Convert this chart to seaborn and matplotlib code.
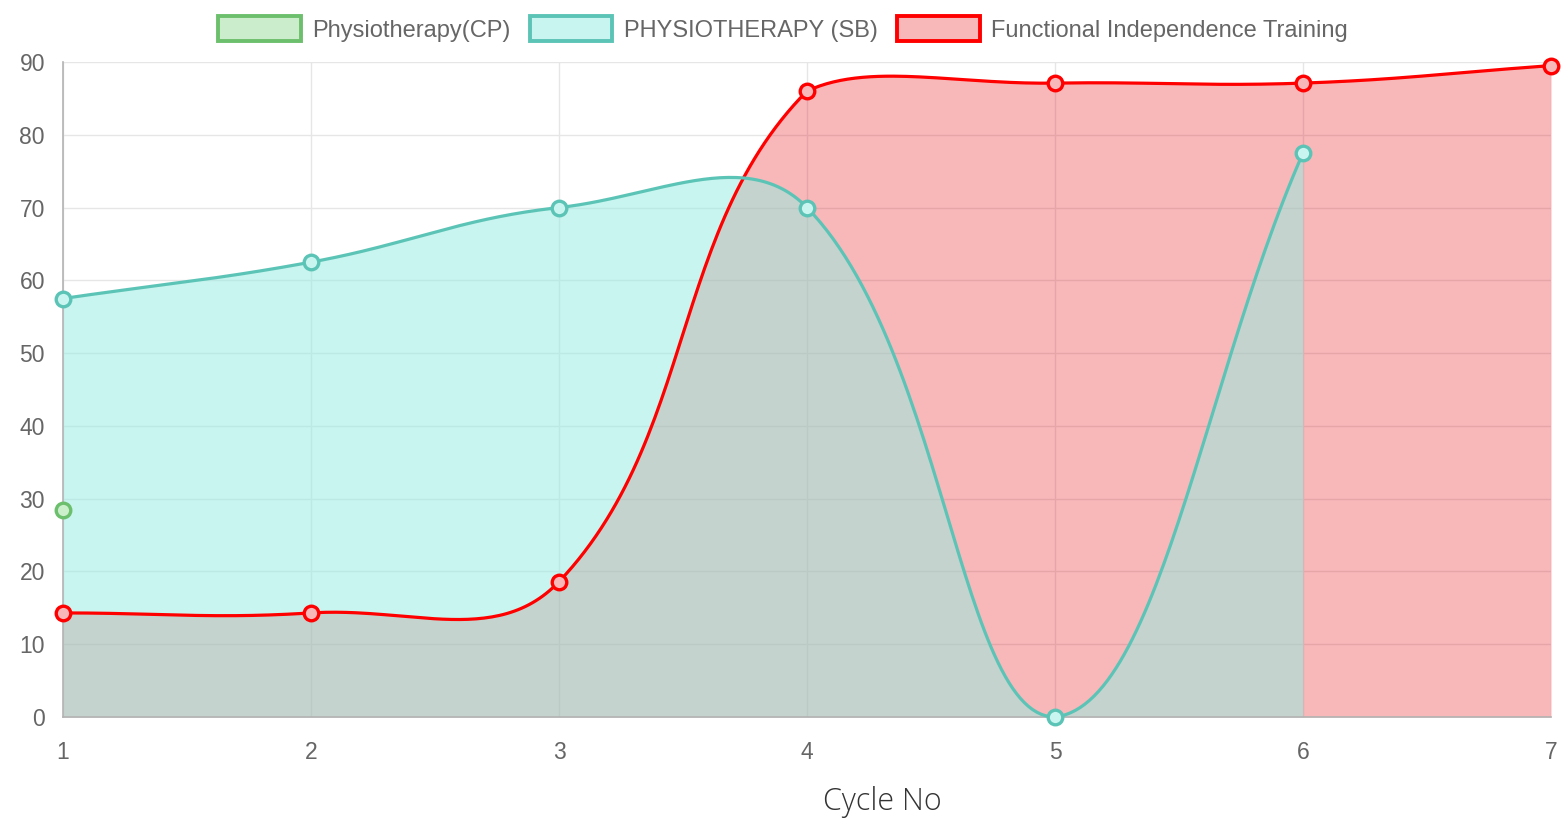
import numpy as np
import pandas as pd
import matplotlib
matplotlib.use("Agg")
import matplotlib.pyplot as plt
import seaborn as sns
from matplotlib.patches import Patch

sns.set_theme(style="whitegrid")
plt.rcParams['font.family'] = ['Liberation Sans', 'DejaVu Sans']

# veriler
cycles = [1, 2, 3, 4, 5, 6, 7]
physio_cp = [28.5]
physio_sb = [57.5, 62.5, 70, 70, 0, 77.5]
fit_vals = [14.3, 14.3, 18.6, 86, 87.1, 87.1, 89.5]

series_names = ["Physiotherapy(CP)", "PHYSIOTHERAPY (SB)", "Functional Independence Training"]
line_colors = ["#6cbf6c", "#5cc4b6", "#ff0000"]
fill_colors = [(0.55, 0.85, 0.55, 0.45), (151/255, 236/255, 226/255, 0.52), (230/255, 0, 10/255, 0.28)]

df = pd.concat([
    pd.DataFrame({"cycle": cycles[:len(physio_cp)], "value": physio_cp, "series": series_names[0]}),
    pd.DataFrame({"cycle": cycles[:len(physio_sb)], "value": physio_sb, "series": series_names[1]}),
    pd.DataFrame({"cycle": cycles[:len(fit_vals)], "value": fit_vals, "series": series_names[2]}),
])


def on_white(c):
    # yari saydam rengi beyaz zemin uzerinde karistir
    a = c[3]
    return tuple(1 - a + a * v for v in c[:3])


def spline_curve(ax, xs, ys, tension=0.4, n=60):
    # Chart.js tarzı bezier egrisi (piksel uzayinda)
    pts = ax.transData.transform(np.column_stack([xs, ys]))
    bb = ax.bbox
    m = len(pts)
    if m < 2:
        return np.array(xs, float), np.array(ys, float)
    cp_prev, cp_next = [], []
    for i in range(m):
        cur = pts[i]
        prev = pts[i - 1] if i > 0 else cur
        nxt = pts[i + 1] if i < m - 1 else cur
        d01 = np.hypot(*(cur - prev))
        d12 = np.hypot(*(nxt - cur))
        tot = d01 + d12
        s01 = d01 / tot if tot else 0
        s12 = d12 / tot if tot else 0
        a = cur - tension * s01 * (nxt - prev)
        b = cur + tension * s12 * (nxt - prev)
        a = np.clip(a, [bb.x0, bb.y0], [bb.x1, bb.y1])
        b = np.clip(b, [bb.x0, bb.y0], [bb.x1, bb.y1])
        cp_prev.append(a)
        cp_next.append(b)
    out = []
    t = np.linspace(0, 1, n)[:, None]
    for i in range(m - 1):
        p0, p1, p2, p3 = pts[i], cp_next[i], cp_prev[i + 1], pts[i + 1]
        seg = ((1 - t) ** 3) * p0 + 3 * ((1 - t) ** 2) * t * p1 + 3 * (1 - t) * t ** 2 * p2 + t ** 3 * p3
        out.append(seg if i == 0 else seg[1:])
    out = ax.transData.inverted().transform(np.vstack(out))
    return out[:, 0], out[:, 1]


fig = plt.figure(figsize=(15.64, 8.27), dpi=100)
ax = fig.add_axes([63 / 1564, 1 - 717 / 827, (1551 - 63) / 1564, (717 - 62) / 827])
ax.set_xlim(1, 7)
ax.set_ylim(0, 90)
ax.set_xticks(cycles)
ax.set_yticks(range(0, 91, 10))
ax.grid(True, color="#e6e6e6", linewidth=1.0)
ax.set_axisbelow(True)
for s in ["top", "right"]:
    ax.spines[s].set_visible(False)
for s in ["left", "bottom"]:
    ax.spines[s].set_color("#b3b3b3")
    ax.spines[s].set_linewidth(1.2)
ax.tick_params(axis="both", colors="#666666", labelsize=16.5, length=10, width=1.0, direction="out")
ax.tick_params(axis="x", pad=7)
ax.tick_params(axis="y", pad=3)
ax.tick_params(axis="both", color="#dddddd")

# once dolgular (ters sirada), sonra cizgiler
order = [2, 1, 0]
curves = {}
for k in order:
    sub = df[df["series"] == series_names[k]]
    cx, cy = spline_curve(ax, sub["cycle"].values, sub["value"].values)
    curves[k] = (cx, cy)
    if len(cx) > 1:
        ax.fill_between(cx, cy, 0, color=fill_colors[k], linewidth=0, zorder=1)

for k in order:
    sub = df[df["series"] == series_names[k]]
    cx, cy = curves[k]
    if len(cx) > 1:
        ax.plot(cx, cy, color=line_colors[k], linewidth=2.3, zorder=3, clip_on=False)
    sns.scatterplot(data=sub, x="cycle", y="value", ax=ax, s=110, marker="o",
                    color=on_white(fill_colors[k]), edgecolor=line_colors[k], linewidth=2.4,
                    zorder=4, clip_on=False, legend=False)
ax.set_xlabel("")
ax.set_ylabel("")

handles = [Patch(facecolor=fill_colors[k], edgecolor=line_colors[k], linewidth=2.8) for k in range(3)]
fig.legend(handles, series_names, loc="center", bbox_to_anchor=(783 / 1564, 1 - 29 / 827), ncol=3,
           frameon=False, fontsize=17, labelcolor="#666666", handlelength=3.5, handleheight=1.2,
           handletextpad=0.5, columnspacing=0.8)

fig.text(882 / 1564, 1 - 802 / 827, "Cycle No", ha="center", va="center", fontsize=22,
         family=["Open Sans", "DejaVu Sans"], fontweight="light", color="#333333")

fig.savefig("out.png", dpi=100)
